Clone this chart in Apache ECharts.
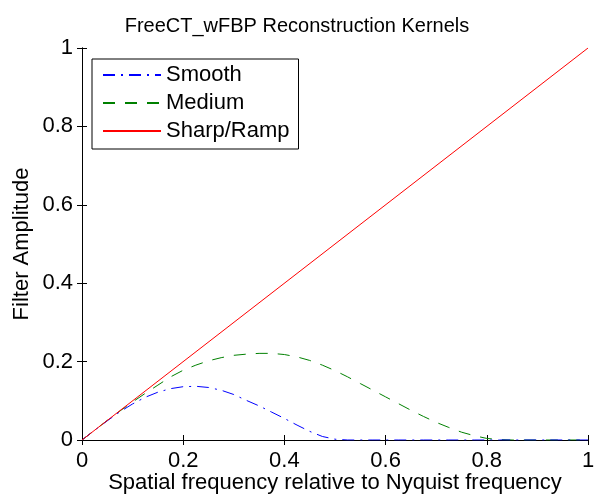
<!DOCTYPE html>
<html>
<head>
<meta charset="utf-8">
<script src="https://cdn.jsdelivr.net/npm/echarts@6/dist/echarts.min.js"></script>
<style>
  html, body { margin: 0; padding: 0; background: #fff; }
  #main { width: 594px; height: 497px; }
</style>
</head>
<body>
<div id="main"></div>
<script>
// values (x = fraction of Nyquist)
var freqs = [0, 0.025, 0.05, 0.075, 0.1, 0.125, 0.15, 0.175, 0.2, 0.225, 0.25, 0.275, 0.3, 0.325,
  0.35, 0.375, 0.4, 0.425, 0.45, 0.475, 0.5, 0.525, 0.55, 0.575, 0.6, 0.625, 0.65, 0.675, 0.7,
  0.725, 0.75, 0.775, 0.8, 0.825, 0.85, 0.9, 0.95, 1]
var smoothVals = [0, 0.025, 0.049, 0.072, 0.092, 0.109, 0.122, 0.131, 0.136, 0.137, 0.134, 0.127,
  0.116, 0.101, 0.087, 0.071, 0.055, 0.038, 0.022, 0.009, 0.002, 0, 0, 0, 0, 0, 0, 0, 0,
  0, 0, 0, 0, 0, 0, 0, 0, 0]
var mediumVals = [0, 0.025, 0.050, 0.074, 0.097, 0.119, 0.140, 0.161, 0.178, 0.191, 0.202, 0.210,
  0.216, 0.219, 0.221, 0.221, 0.218, 0.212, 0.203, 0.191, 0.177, 0.161, 0.144, 0.127, 0.110,
  0.093, 0.076, 0.060, 0.045, 0.032, 0.020, 0.011, 0.004, 0.001, 0, 0, 0, 0]
var sharpX = [0, 1]
var sharpVals = [0, 1]
var tickLabels = ['0', '0.2', '0.4', '0.6', '0.8', '1']

var FONT = "'Liberation Sans', Arial, sans-serif"

function pairs(xs, ys) {
  return xs.map(function (x, i) { return [x, ys[i]] })
}
function fmt(v) {
  return tickLabels[Math.round(v / 0.2)]
}

var chart = echarts.init(document.getElementById('main'))

// matlab style box: black frame, ticks pointing inwards on all four sides
var boxAxis = {
  type: 'value',
  min: 0,
  max: 1,
  interval: 0.2,
  axisLine: { show: true, lineStyle: { color: '#000', width: 1 } },
  axisTick: { show: true, inside: true, length: 5, lineStyle: { color: '#000' } },
  splitLine: { show: false }
}

var option = {
  backgroundColor: '#fff',
  animation: false,
  title: {
    text: 'FreeCT_wFBP Reconstruction Kernels',
    left: 'center',
    top: 11,
    textStyle: { fontFamily: FONT, fontSize: 20, fontWeight: 'normal', color: '#000' }
  },
  legend: {
    orient: 'vertical',
    left: 92,
    top: 59,
    padding: [5, 9, 7, 10],
    itemWidth: 58,
    itemHeight: 14,
    itemGap: 6,
    borderColor: '#000',
    borderWidth: 1,
    borderRadius: 0,
    backgroundColor: '#fff',
    itemStyle: { opacity: 0 },
    textStyle: { fontFamily: FONT, fontSize: 22, color: '#000' },
    data: ['Smooth', 'Medium', 'Sharp/Ramp']
  },
  grid: { left: 82, right: 6, top: 48, bottom: 57, containLabel: false, outerBoundsMode: 'none' },
  xAxis: [
    Object.assign({}, boxAxis, {
      position: 'bottom',
      name: 'Spatial frequency relative to Nyquist frequency',
      nameLocation: 'middle',
      nameGap: 32,
      nameMoveOverlap: false,
      nameTextStyle: { fontFamily: FONT, fontSize: 22, color: '#000' },
      axisLabel: { formatter: fmt, margin: 10, fontFamily: FONT, fontSize: 22, color: '#000' }
    }),
    Object.assign({}, boxAxis, { position: 'top', axisLabel: { show: false } })
  ],
  yAxis: [
    Object.assign({}, boxAxis, {
      position: 'left',
      name: 'Filter Amplitude',
      nameLocation: 'middle',
      nameGap: 49,
      nameMoveOverlap: false,
      nameTextStyle: { fontFamily: FONT, fontSize: 22, color: '#000' },
      axisLabel: { formatter: fmt, margin: 9, fontFamily: FONT, fontSize: 22, color: '#000' }
    }),
    Object.assign({}, boxAxis, { position: 'right', axisLabel: { show: false } })
  ],
  series: [
    {
      name: 'Smooth',
      type: 'line',
      symbol: 'none',
      data: pairs(freqs, smoothVals),
      itemStyle: { color: '#0000ff' },
      lineStyle: { color: '#0000ff', width: 1, type: [12, 6, 2, 6] },
      z: 3
    },
    {
      name: 'Medium',
      type: 'line',
      symbol: 'none',
      data: pairs(freqs, mediumVals),
      itemStyle: { color: '#008000' },
      lineStyle: { color: '#008000', width: 1, type: [12, 10] },
      z: 2
    },
    {
      name: 'Sharp/Ramp',
      type: 'line',
      symbol: 'none',
      data: pairs(sharpX, sharpVals),
      itemStyle: { color: '#ff0000' },
      lineStyle: { color: '#ff0000', width: 1, type: 'solid' },
      z: 4
    }
  ]
}

chart.setOption(option)
</script>
</body>
</html>
